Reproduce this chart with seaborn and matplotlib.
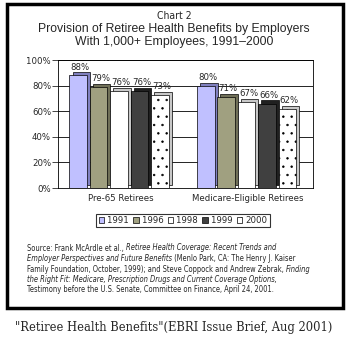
import matplotlib
matplotlib.use("Agg")
import matplotlib.pyplot as plt
import matplotlib.patches as mpatches
from matplotlib.transforms import ScaledTranslation
from matplotlib import font_manager as fm
import seaborn as sns
import pandas as pd

categories = ["Pre-65 Retirees", "Medicare-Eligible Retirees"]
years = ["1991", "1996", "1998", "1999", "2000"]
pre65 = [88, 79, 76, 76, 73]
medicare = [80, 71, 67, 66, 62]
colors = ["#c0c0ff", "#a0a080", "#ffffff", "#404040", "#ffffff"]
shades = ["#8080c0", "#707058", "#c8c8c8", "#202020", "#c8c8c8"]
yticks = [0, 20, 40, 60, 80, 100]

rows = []
for yr, a, b in zip(years, pre65, medicare):
    rows.append({"cat": categories[0], "year": yr, "val": a})
    rows.append({"cat": categories[1], "year": yr, "val": b})
df = pd.DataFrame(rows)

sns.set_style("white")
plt.rcParams["font.family"] = ["Liberation Sans", "DejaVu Sans"]
plt.rcParams["hatch.linewidth"] = 0.5

# pick a narrow font if one is installed
names = {f.name for f in fm.fontManager.ttflist}
cond_dejavu = any(f.name == "DejaVu Sans" and ("Condensed" in f.fname)
                  for f in fm.fontManager.ttflist)
if "Liberation Sans Narrow" in names:
    NFONT = dict(family=["Liberation Sans Narrow", "DejaVu Sans"])
elif cond_dejavu:
    NFONT = dict(family=["DejaVu Sans"], fontstretch="condensed")
elif "DejaVu Sans Condensed" in names:
    NFONT = dict(family=["DejaVu Sans Condensed", "DejaVu Sans"])
else:
    NFONT = dict(family=["Liberation Sans", "DejaVu Sans"])

fig = plt.figure(figsize=(3.48, 3.42), dpi=100)
W, H = 348, 342

# outer border
fig.add_artist(mpatches.Rectangle((7 / W, 1 - 308 / H), 336 / W, 304 / H,
                                  transform=fig.transFigure, fill=False,
                                  edgecolor="black", linewidth=2.5))

ax = fig.add_axes([58 / W, 1 - 188 / H, 255 / W, 128 / H])
sns.barplot(data=df, x="cat", y="val", hue="year", palette=colors,
            order=categories, hue_order=years, width=0.8, ax=ax,
            edgecolor="black", linewidth=0.5, legend=False, errorbar=None,
            saturation=1, zorder=3)

ax.set_xlim(-0.49, 1.51)
ax.set_ylim(0, 100)
ax.set_yticks(yticks)
ax.set_yticklabels([f"{v}%" for v in yticks], fontsize=6.8, **NFONT)
ax.set_xticks([0, 1])
ax.set_xticklabels(categories, fontsize=6.8, **NFONT)
ax.tick_params(axis="y", length=4, width=0.6, pad=1, direction="out", left=True)
ax.tick_params(axis="x", length=0, pad=4)
ax.set_xlabel("")
ax.set_ylabel("")
ax.yaxis.grid(True, color="black", linewidth=0.6, zorder=0)
for s in ax.spines.values():
    s.set_color("black")
    s.set_linewidth(0.6)

# 3-D depth faces and labels
d = 2.2 / 72
off = ScaledTranslation(d, d, fig.dpi_scale_trans)
patches = list(ax.patches)
for i, p in enumerate(patches):
    hue_idx = i // 2
    if hue_idx == 4:
        p.set_hatch("..")
    p.set_width(p.get_width() * 0.86)
    x0, w, h = p.get_x(), p.get_width(), p.get_height()
    back = mpatches.Rectangle((x0, 0), w, h, transform=ax.transData + off,
                              facecolor=shades[hue_idx], edgecolor="black",
                              linewidth=0.5, zorder=2.5)
    ax.add_patch(back)
    ax.text(x0 + w / 2, h + 3, f"{int(round(h))}%", ha="center", va="bottom",
            fontsize=6.8, zorder=5,
            transform=ax.transData + ScaledTranslation(1.5 / 72, 0, fig.dpi_scale_trans),
            **NFONT)

# legend
handles = [mpatches.Patch(facecolor=c, edgecolor="black", linewidth=0.5,
                          hatch=(".." if i == 4 else None))
           for i, c in enumerate(colors)]
lprop = fm.FontProperties(size=6.8, family=NFONT["family"],
                          stretch=NFONT.get("fontstretch", "normal"))
leg = fig.legend(handles, years, loc="center", bbox_to_anchor=(183 / W, 1 - 220.5 / H),
                 ncol=5, frameon=True, fancybox=False, edgecolor="black",
                 prop=lprop, handlelength=0.6,
                 handleheight=0.6, handletextpad=0.3, columnspacing=0.45,
                 borderpad=0.25, borderaxespad=0)
leg.get_frame().set_linewidth(0.8)

# titles
fig.text(0.5, 1 - 16 / H, "Chart 2", ha="center", va="center",
         fontsize=7.5, **NFONT)
t1 = fig.text(0.5, 1 - 29 / H, "Provision of Retiree Health Benefits by Employers",
              ha="center", va="center", fontsize=7.6, fontweight="normal",
              family=["Liberation Sans", "DejaVu Sans"])
t2 = fig.text(0.5, 1 - 42 / H, "With 1,000+ Employees, 1991\u20132000",
              ha="center", va="center", fontsize=7.6, fontweight="normal",
              family=["Liberation Sans", "DejaVu Sans"])

# source text with mixed italic
src_lines = [
    [("Source: Frank McArdle et al., ", "normal"),
     ("Retiree Health Coverage: Recent Trends and", "italic")],
    [("Employer Perspectives and Future Benefits", "italic"),
     (" (Menlo Park, CA: The Henry J. Kaiser", "normal")],
    [("Family Foundation, October, 1999); and Steve Coppock and Andrew Zebrak, ", "normal"),
     ("Finding", "italic")],
    [("the Right Fit: Medicare, Prescription Drugs and Current Coverage Options,", "italic")],
    [("Testimony before the U.S. Senate, Committee on Finance, April 24, 2001.", "normal")],
]
line_y = [248, 258.5, 269, 279.5, 290]
src_texts = []
for parts, yy in zip(src_lines, line_y):
    row = []
    for txt, style in parts:
        t = fig.text(27 / W, 1 - yy / H, txt, ha="left", va="center",
                     fontsize=6.9, style=style, **NFONT)
        row.append(t)
    src_texts.append(row)

fig.canvas.draw()
renderer = fig.canvas.get_renderer()


def chain():
    for row in src_texts:
        x = 27 / W
        for t in row:
            t.set_x(x)
            bb = t.get_window_extent(renderer)
            x = bb.x1 / fig.bbox.width


chain()
row3 = src_texts[2]
width3 = row3[-1].get_window_extent(renderer).x1 - row3[0].get_window_extent(renderer).x0
scale = 286.0 / width3
for row in src_texts:
    for t in row:
        t.set_fontsize(6.9 * scale)
fig.canvas.draw()
chain()

w1 = t1.get_window_extent(renderer).width
s = 270.0 / w1
t1.set_fontsize(7.6 * s)
t2.set_fontsize(7.6 * s)

fig.text(0.5, 1 - 328 / H, "\"Retiree Health Benefits\"(EBRI Issue Brief, Aug 2001)",
         ha="center", va="center", family=["DejaVu Serif"], fontsize=8.3)

fig.savefig("out.png", dpi=100)
